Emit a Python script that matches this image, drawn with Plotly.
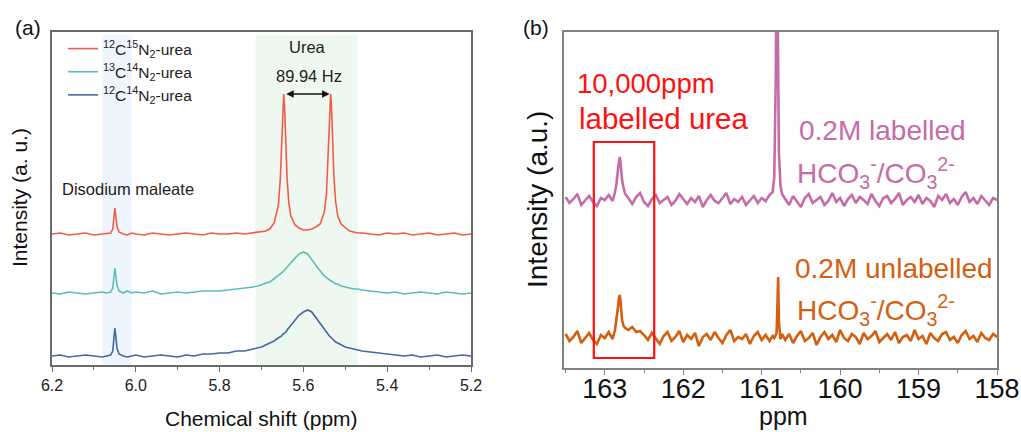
import plotly.graph_objects as go

W, H = 1021, 432
FONT = "Arial, Liberation Sans, Helvetica, sans-serif"

# ---------------- Panel (a): 1H NMR, chemical shift (ppm) ----------------
shift_a = [6.20, 6.18, 6.16, 6.14, 6.12, 6.10, 6.08, 6.07, 6.06,
           6.055, 6.052, 6.05, 6.048, 6.045, 6.04,
           6.03, 6.02, 6.01, 6.00,
           5.98, 5.96, 5.94, 5.92, 5.90, 5.88, 5.86, 5.84, 5.82, 5.80, 5.78, 5.76, 5.74, 5.72, 5.70,
           5.69, 5.68, 5.67, 5.66,
           5.655, 5.652, 5.649, 5.647, 5.645, 5.642, 5.639, 5.635, 5.63,
           5.62, 5.61, 5.60, 5.59, 5.58, 5.57, 5.56, 5.55,
           5.545, 5.541, 5.538, 5.535, 5.533, 5.530, 5.527, 5.523, 5.518,
           5.51, 5.50, 5.49, 5.48, 5.47, 5.46,
           5.44, 5.42, 5.40, 5.38, 5.36, 5.34, 5.32, 5.30, 5.28, 5.26, 5.24, 5.22, 5.20]

int_12C15N = [131, 132, 130, 131, 132, 130, 131, 131, 132,
              136, 147, 157, 150, 139, 133,
              131, 130, 132, 131,
              130, 132, 131, 130, 131, 132, 131, 130, 132, 131, 131, 132, 131, 132, 133,
              134, 136, 142, 159,
              187, 219, 259, 271, 259, 219, 187, 163, 149,
              140, 137, 135, 135, 136, 138, 141, 153,
              171, 207, 248, 271, 259, 219, 187, 163, 149,
              141, 137, 134, 133, 132, 132,
              131, 130, 132, 131, 132, 130, 131, 132, 130, 131, 132, 130, 131]

int_13C14N = [72, 71, 73, 72, 71, 72, 73, 72, 73,
              77, 88, 97, 91, 80, 74,
              72, 74, 72, 73,
              72, 74, 71, 72, 73, 72, 73, 74, 74, 74, 75, 76, 77, 78, 80,
              82, 83, 86, 89,
              91, 92, 93, 94, 95, 96, 97, 99, 102,
              107, 111, 113, 111, 105, 99, 94, 89,
              87, 86, 85, 84, 84, 83, 82, 81, 81,
              79, 78, 77, 76, 76, 75,
              74, 73, 72, 73, 71, 72, 73, 72, 71, 73, 72, 71, 72]

int_12C14N = [9, 10, 8, 9, 10, 9, 8, 9, 10,
              14, 27, 37, 30, 17, 11,
              9, 8, 9, 10,
              8, 9, 10, 9, 8, 10, 9, 11, 11, 12, 12, 14, 14, 16, 18,
              20, 22, 24, 27,
              28, 29, 31, 31, 32, 33, 35, 37, 39,
              44, 50, 53, 55, 53, 47, 41, 35,
              32, 30, 29, 28, 27, 26, 25, 23, 22,
              20, 18, 17, 16, 15, 14,
              13, 12, 11, 10, 9, 10, 8, 9, 10, 8, 9, 10, 9]

names_a = ["<sup>12</sup>C<sup>15</sup>N<sub>2</sub>-urea",
           "<sup>13</sup>C<sup>14</sup>N<sub>2</sub>-urea",
           "<sup>12</sup>C<sup>14</sup>N<sub>2</sub>-urea"]
colors_a = ["#f25c47", "#5cbdb9", "#44689f"]

ticks_a = [6.2, 6.0, 5.8, 5.6, 5.4, 5.2]
ticklabels_a = ["6.2", "6.0", "5.8", "5.6", "5.4", "5.2"]

maleate_band = [6.08, 6.01]
urea_band = [5.714, 5.47]
doublet_ppm = [5.647, 5.535]
doublet_top = 271

# ---------------- Panel (b): 13C NMR, ppm ----------------
ppm_b = [163.50, 163.45, 163.40, 163.35, 163.30, 163.25, 163.20, 163.15, 163.10, 163.05, 163.00, 162.95, 162.90,
         162.87, 162.85, 162.83, 162.82, 162.81, 162.80, 162.79, 162.78, 162.76, 162.74,
         162.70, 162.65, 162.60, 162.55, 162.50, 162.45, 162.40, 162.35, 162.30, 162.25, 162.20, 162.15,
         162.10, 162.05, 162.00, 161.95, 161.90, 161.85, 161.80, 161.75, 161.70, 161.65, 161.60, 161.55,
         161.50, 161.45, 161.40, 161.35, 161.30, 161.25, 161.20, 161.15, 161.10, 161.05, 161.00, 160.95, 160.90,
         160.86, 160.84, 160.82, 160.81, 160.80, 160.79, 160.78, 160.76, 160.74,
         160.70, 160.65, 160.60, 160.55, 160.50, 160.45, 160.40, 160.35, 160.30, 160.25, 160.20, 160.15,
         160.10, 160.05, 160.00, 159.95, 159.90, 159.85, 159.80, 159.75, 159.70, 159.65, 159.60, 159.55,
         159.50, 159.45, 159.40, 159.35, 159.30, 159.25, 159.20, 159.15, 159.10, 159.05, 159.00, 158.95,
         158.90, 158.85, 158.80, 158.75, 158.70, 158.65, 158.60, 158.55, 158.50, 158.45, 158.40, 158.35,
         158.30, 158.25, 158.20, 158.15, 158.10, 158.05, 158.00]

int_labelled = [171, 165, 169, 174, 163, 167, 172, 166, 162, 170, 168, 173, 167,
                176, 185, 200, 207, 211, 206, 197, 188, 180, 174,
                170, 164, 171, 175, 166, 162, 169, 173, 165, 168, 171, 163, 167, 174, 169, 164,
                170, 166, 172, 161, 168, 173, 167, 165, 170, 175, 164, 169, 166, 171, 163, 168,
                172, 165, 170, 167, 173,
                176, 190, 290, 420, 400, 300, 215, 182, 174,
                169, 163, 172, 166, 161, 170, 174, 165, 168, 171, 163, 167, 175, 166, 170, 162,
                169, 173, 165, 171, 168, 164, 174, 167, 162, 170, 172, 165, 169, 175, 163, 168,
                171, 166, 173, 164, 170, 167, 161, 172, 168, 174, 165, 169, 163, 171, 176, 166,
                170, 164, 172, 167, 163, 170, 168]

int_unlabelled = [34, 27, 31, 37, 25, 30, 35, 28, 24, 33, 30, 36, 29,
                  38, 48, 62, 70, 73, 68, 58, 48, 42, 40,
                  38, 41, 36, 37, 33, 28, 35, 30, 24, 32, 36, 27, 31, 37, 26, 33,
                  29, 35, 22, 31, 34, 28, 36, 30, 25, 33, 38, 27, 31, 29, 34, 24,
                  32, 36, 28, 33, 27,
                  32, 30, 33, 35, 60, 91, 45, 29, 34,
                  28, 34, 25, 32, 37, 27, 30, 35, 23, 31, 36, 29, 33, 26, 38, 30,
                  27, 34, 31, 24, 35, 29, 32, 37, 26, 30, 34, 28, 36, 25, 31, 33,
                  27, 38, 29, 32, 24, 35, 30, 27, 34, 36, 28, 31, 25, 33, 37, 29,
                  32, 26, 35, 30, 28, 34, 31]

colors_b = ["#c56ca6", "#d4600f"]
ticks_b = [163, 162, 161, 160, 159, 158]
ticklabels_b = ["163", "162", "161", "160", "159", "158"]
urea_box_ppm = [163.14, 162.37]
urea_box_int = [10, 226]


def px(x):
    return x / W


def py(y):
    return 1 - y / H


fig = go.Figure()

for ys, nm, c in zip([int_12C15N, int_13C14N, int_12C14N], names_a, colors_a):
    fig.add_trace(go.Scatter(x=shift_a, y=ys, mode="lines", name=nm, line=dict(color=c, width=1.6),
                             xaxis="x", yaxis="y", legendgroup=nm, showlegend=True))

for ys, c in zip([int_labelled, int_unlabelled], colors_b):
    fig.add_trace(go.Scatter(x=ppm_b, y=ys, mode="lines", line=dict(color=c, width=2.6),
                             xaxis="x2", yaxis="y2", showlegend=False))

frame_a = "#6a6a6a"
frame_b = "#808080"

fig.update_layout(
    width=W, height=H, margin=dict(l=0, r=0, t=0, b=0, autoexpand=False),
    paper_bgcolor="white", plot_bgcolor="rgba(0,0,0,0)",
    font=dict(family=FONT, color="#222"),
    xaxis=dict(domain=[px(52), px(471)], range=[6.2, 5.2], tickvals=ticks_a, ticktext=ticklabels_a,
               ticks="outside", ticklen=5, tickcolor=frame_a, tickwidth=1.2,
               minor=dict(ticks="outside", dtick=0.1, ticklen=3, tickcolor=frame_a),
               showline=True, linecolor=frame_a, linewidth=1.5, mirror=True, automargin=False,
               showgrid=False, zeroline=False, tickfont=dict(size=16, color="#222"), anchor="y"),
    yaxis=dict(domain=[py(365), py(32)], range=[0, 333], showticklabels=False, ticks="",
               showline=True, linecolor=frame_a, linewidth=1.5, mirror=True, automargin=False,
               showgrid=False, zeroline=False, anchor="x"),
    xaxis2=dict(domain=[px(564), px(997)], range=[163.52, 158.0], tickvals=ticks_b, ticktext=ticklabels_b,
                ticks="outside", ticklen=5, tickcolor=frame_b, tickwidth=1.2,
                minor=dict(ticks="outside", dtick=0.5, ticklen=3, tickcolor=frame_b),
                showline=True, linecolor=frame_b, linewidth=1.5, mirror=True, automargin=False,
                ticklabelstandoff=-9,
                showgrid=False, zeroline=False, tickfont=dict(size=27, color="#111"), anchor="y2"),
    yaxis2=dict(domain=[py(368), py(32)], range=[0, 336], showticklabels=False, ticks="",
                showline=True, linecolor=frame_b, linewidth=1.5, mirror=True, automargin=False,
                showgrid=False, zeroline=False, anchor="x2"),
    legend=dict(x=px(63), y=py(32), xanchor="left", yanchor="top", bgcolor="rgba(0,0,0,0)",
                font=dict(size=15.5, color="#222"), traceorder="grouped", tracegroupgap=0,
                itemwidth=30),
    showlegend=True,
)

# shaded bands (a)
for band, col in [(maleate_band, "#eef5fc"), (urea_band, "#eef8f1")]:
    fig.add_shape(type="rect", xref="x", yref="y domain", x0=band[0], x1=band[1], y0=0, y1=0.99,
                  fillcolor=col, line=dict(width=0), layer="below")

# red box (b)
fig.add_shape(type="rect", xref="x2", yref="y2", x0=urea_box_ppm[0], x1=urea_box_ppm[1],
              y0=urea_box_int[0], y1=urea_box_int[1], line=dict(color="#ff1010", width=2.2))

# doublet arrow
fig.add_annotation(x=doublet_ppm[1], y=doublet_top, ax=doublet_ppm[0], ay=doublet_top,
                   xref="x", yref="y", axref="x", ayref="y", text="", showarrow=True,
                   arrowhead=2, arrowside="end+start", arrowsize=1, arrowwidth=1.5, arrowcolor="#111",
                   startstandoff=1, standoff=1)

ann = [
    ("(a)", 28, 27, 21, "#111", "center", "middle"),
    ("(b)", 536, 27, 21, "#111", "center", "middle"),
    ("Urea", 307, 47, 16.5, "#222", "center", "middle"),
    ("89.94 Hz", 309, 76, 16.5, "#222", "center", "middle"),
    ("Disodium maleate", 60, 189, 16.5, "#222", "left", "middle"),
    ("Chemical shift (ppm)", 261, 418, 21, "#111", "center", "middle"),
    ("ppm", 783, 432, 25, "#111", "center", "bottom"),
    ("10,000ppm", 646, 83, 27.5, "#ff1010", "center", "middle"),
    ("labelled urea", 664, 118, 29.5, "#ff1010", "center", "middle"),
    ("0.2M labelled", 797, 131, 28, colors_b[0], "left", "middle"),
    ("HCO<sub>3</sub><sup>-</sup>/CO<sub>3</sub><sup>2-</sup>", 795, 173, 28, colors_b[0], "left", "middle"),
    ("0.2M unlabelled", 793, 268, 28, colors_b[1], "left", "middle"),
    ("HCO<sub>3</sub><sup>-</sup>/CO<sub>3</sub><sup>2-</sup>", 795, 310, 28, colors_b[1], "left", "middle"),
]
for t, x, y, s, c, anc, vanc in ann:
    fig.add_annotation(text=t, x=px(x), y=py(y), xref="paper", yref="paper", showarrow=False,
                       xanchor=anc, yanchor=vanc, font=dict(size=s, color=c, family=FONT))

fig.add_annotation(text="Intensity (a. u.)", x=px(20), y=py(198), xref="paper", yref="paper",
                   xanchor="center", yanchor="middle",
                   showarrow=False, textangle=-90, font=dict(size=21, color="#111"))
fig.add_annotation(text="Intensity (a.u.)", x=px(537), y=py(200), xref="paper", yref="paper",
                   xanchor="center", yanchor="middle",
                   showarrow=False, textangle=-90, font=dict(size=28, color="#111"))

fig.write_html("out.html")
